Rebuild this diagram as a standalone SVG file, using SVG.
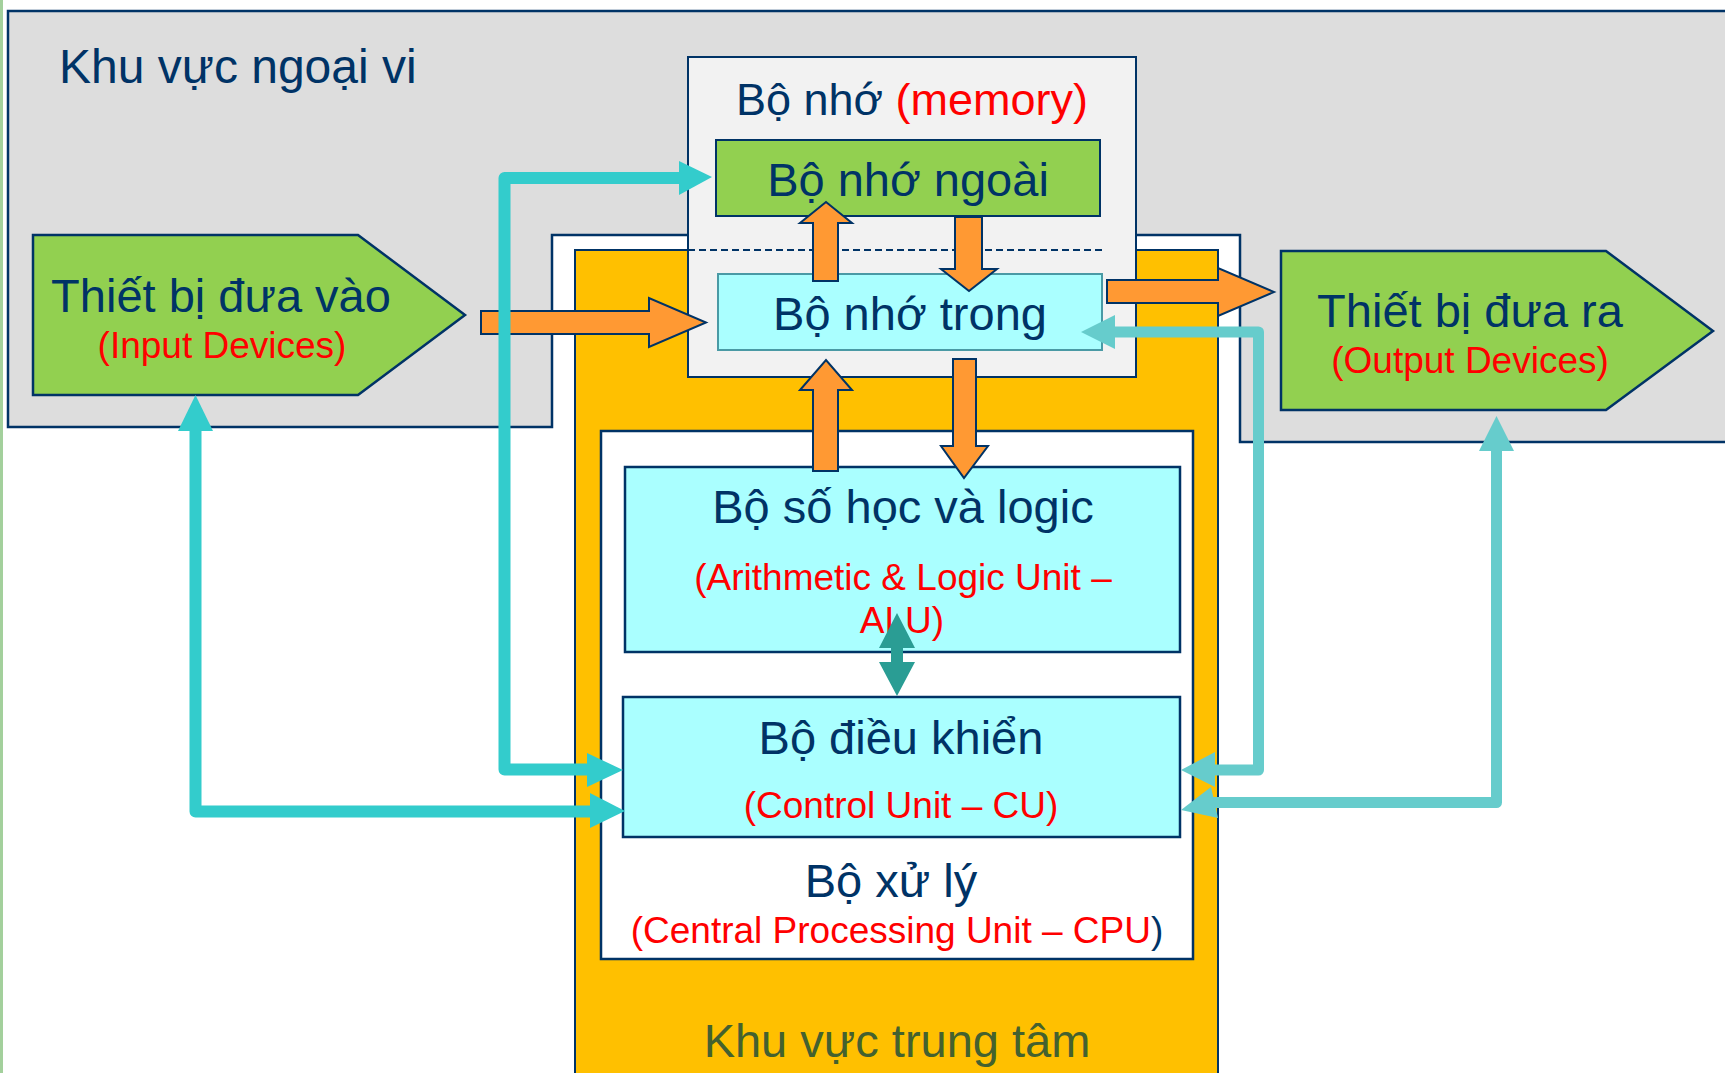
<svg xmlns="http://www.w3.org/2000/svg" width="1725" height="1073" viewBox="0 0 1725 1073">
<style>
text{font-family:"Liberation Sans",Arial,sans-serif}
.nv{fill:#003366}
.rd{fill:#FF0000}
.big{font-size:47px}
.sm{font-size:37px}
.bx{stroke:#003366;stroke-width:2.5}
.or{fill:#FF9933;stroke:#003366;stroke-width:2;stroke-linejoin:miter}
.tl{fill:none;stroke:#33CCCC;stroke-width:12;stroke-linejoin:round}
.tlh{fill:#33CCCC}
.tr{fill:none;stroke:#66CCCC;stroke-width:11;stroke-linejoin:round}
.trh{fill:#66CCCC}
</style>
<rect x="0" y="0" width="1725" height="1073" fill="#FFFFFF"/>
<rect x="0" y="0" width="3" height="1073" fill="#A3D09C"/>
<g id="khu-vuc-ngoai-vi">
<path d="M8,11 H1730 V442 H1240 V235 H552 V427 H8 Z" fill="#DDDDDD" stroke="#003366" stroke-width="2.5"/>
<text x="59" y="83" class="nv" font-size="48">Khu vực ngoại vi</text>
</g>
<g id="khu-vuc-trung-tam">
<rect x="575" y="250" width="643" height="830" fill="#FFC000" stroke="#003366" stroke-width="2"/>
<text x="897" y="1057" text-anchor="middle" class="big" fill="#44612F">Khu vực trung tâm</text>
</g>
<g id="bo-nho">
<rect x="688" y="57" width="448" height="320" fill="#F2F2F2" stroke="#003366" stroke-width="2"/>
<line x1="688" y1="250" x2="1105" y2="250" stroke="#003366" stroke-width="2" stroke-dasharray="7,4"/>
<text x="912" y="115" text-anchor="middle" font-size="45"><tspan class="nv">Bộ nhớ </tspan><tspan class="rd">(memory)</tspan></text>
</g>
<g id="bo-nho-ngoai">
<rect x="716" y="140" width="384" height="76" fill="#92D050" stroke="#003366" stroke-width="2"/>
<text x="908" y="196" text-anchor="middle" class="nv big">Bộ nhớ ngoài</text>
</g>
<g id="bo-nho-trong">
<rect x="718" y="274" width="384" height="76" fill="#AAFFFF" stroke="#4A9AA5" stroke-width="2"/>
<text x="910" y="330" text-anchor="middle" class="nv big">Bộ nhớ trong</text>
</g>
<g id="bo-xu-ly">
<rect x="601" y="431" width="592" height="528" fill="#FFFFFF" class="bx"/>
<text x="891" y="897" text-anchor="middle" class="nv big">Bộ xử lý</text>
<text x="897" y="943" text-anchor="middle" class="sm"><tspan class="rd">(Central Processing Unit – CPU</tspan><tspan class="nv">)</tspan></text>
</g>
<g id="alu">
<rect x="625" y="467" width="555" height="185" fill="#AAFFFF" class="bx"/>
<text x="903" y="523" text-anchor="middle" class="nv big">Bộ số học và logic</text>
<text x="903" y="590" text-anchor="middle" class="rd sm">(Arithmetic &amp; Logic Unit –</text>
<text x="902" y="633" text-anchor="middle" class="rd sm">ALU)</text>
</g>
<g id="cu">
<rect x="623" y="697" width="557" height="140" fill="#AAFFFF" class="bx"/>
<text x="901" y="754" text-anchor="middle" class="nv big">Bộ điều khiển</text>
<text x="901" y="818" text-anchor="middle" class="rd sm">(Control Unit – CU)</text>
</g>
<g id="thiet-bi-dua-vao">
<polygon points="33,235 358,235 465,315 358,395 33,395" fill="#92D050" stroke="#003366" stroke-width="2.5"/>
<text x="221" y="312" text-anchor="middle" class="nv big">Thiết bị đưa vào</text>
<text x="222" y="358" text-anchor="middle" class="rd sm">(Input Devices)</text>
</g>
<g id="thiet-bi-dua-ra">
<polygon points="1281,251 1606,251 1713,331 1606,410 1281,410" fill="#92D050" stroke="#003366" stroke-width="2.5"/>
<text x="1470" y="327" text-anchor="middle" class="nv big">Thiết bị đưa ra</text>
<text x="1470" y="373" text-anchor="middle" class="rd sm">(Output Devices)</text>
</g>
<g id="connectors">
<polygon class="or" points="481,311 649,311 649,298 706,322.5 649,347 649,334 481,334"/>
<polygon class="or" points="813,281 813,223 800,223 826,202 852,223 838,223 838,281"/>
<polygon class="or" points="955,217 982,217 982,269 997,269 969,291 941,269 955,269"/>
<polygon class="or" points="813,471 813,390 800,390 826,360 852,390 838,390 838,471"/>
<polygon class="or" points="953,359 976,359 976,446 988,446 964,478 941,446 953,446"/>
<polygon class="or" points="1107,280 1218,280 1218,268 1274,292 1218,316 1218,303 1107,303"/>
<path class="tl" d="M682,178 H504.5 V769.5 H590"/>
<polygon class="tlh" points="679,161 712,177 679,195"/>
<polygon class="tlh" points="587,753 623,770 587,787"/>
<path class="tl" d="M195.5,428 V811.5 H592"/>
<polygon class="tlh" points="178,431 195.5,395 213,431"/>
<polygon class="tlh" points="590,793 625,811 590,828"/>
<path class="tr" d="M1112,332 H1258.5 V770 H1213"/>
<polygon class="trh" points="1215,752 1181,770 1215,787"/>
<polygon class="trh" points="1115,315 1081,332 1115,349"/>
<path class="tr" d="M1496.5,448 V802.5 H1212"/>
<polygon class="trh" points="1211,787 1181,810 1218,818"/>
<polygon class="trh" points="1479,451 1496.5,416 1514,451"/>
<polygon fill="#2A9D94" points="897,613 915,648 903,648 903,662 915,662 897,696 879,662 891,662 891,648 879,648"/>
</g>
</svg>
